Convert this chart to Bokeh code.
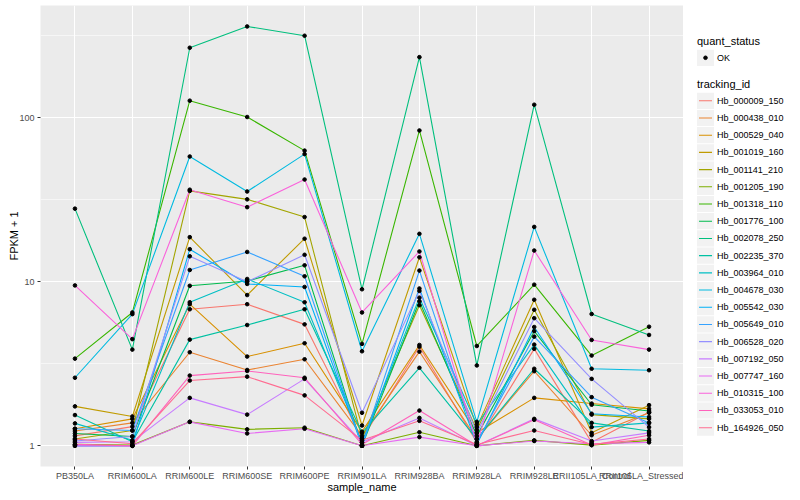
from bokeh.plotting import figure
from bokeh.layouts import row
from bokeh.models import Range1d, FixedTicker, PrintfTickFormatter
from bokeh.core.properties import value
from bokeh.embed import file_html
from bokeh.resources import INLINE

samples = ["PB350LA", "RRIM600LA", "RRIM600LE", "RRIM600SE", "RRIM600PE", "RRIM901LA",
           "RRIM928BA", "RRIM928LA", "RRIM928LE", "RRII105LA_Control", "RRII105LA_Stressed"]

tracking_ids = ["Hb_000009_150", "Hb_000438_010", "Hb_000529_040", "Hb_001019_160",
                "Hb_001141_210", "Hb_001205_190", "Hb_001318_110", "Hb_001776_100",
                "Hb_002078_250", "Hb_002235_370", "Hb_003964_010", "Hb_004678_030",
                "Hb_005542_030", "Hb_005649_010", "Hb_006528_020", "Hb_007192_050",
                "Hb_007747_160", "Hb_010315_100", "Hb_033053_010", "Hb_164926_050"]

hb_000009_150 = [1.15, 1.31, 6.8, 7.3, 5.5, 1.1, 4.02, 1.05, 3.9, 1.05, 1.6]
hb_000438_010 = [1.23, 1.38, 3.72, 2.9, 3.37, 1.15, 3.75, 1.1, 2.85, 1.16, 1.59]
hb_000529_040 = [1.27, 1.46, 7.3, 3.5, 4.22, 1.22, 4.12, 1.2, 1.96, 1.81, 1.68]
hb_001019_160 = [1.74, 1.51, 18.7, 8.3, 18.3, 1.33, 14.1, 1.3, 7.77, 1.2, 1.77]
hb_001141_210 = [1.1, 1.24, 35.8, 31.8, 24.8, 1.11, 7.2, 1.25, 6.75, 1.55, 1.46]
hb_001205_190 = [1.02, 1.01, 1.4, 1.26, 1.29, 1.0, 1.21, 1.0, 1.08, 1.01, 1.08]
hb_001318_110 = [3.4, 6.5, 127, 101, 63, 4.18, 83.6, 4.06, 9.6, 3.55, 5.32]
hb_001776_100 = [1.19, 1.14, 9.45, 10.1, 12.6, 1.0, 7.6, 1.15, 5.0, 1.78, 1.63]
hb_002078_250 = [27.9, 3.86, 267, 360, 316, 9.0, 234, 3.09, 120, 6.36, 4.74]
hb_002235_370 = [1.54, 1.06, 4.44, 5.45, 6.8, 1.2, 2.99, 1.1, 2.95, 1.38, 1.23]
hb_003964_010 = [1.37, 1.08, 7.5, 10.4, 7.5, 1.05, 8.0, 1.35, 4.14, 1.30, 1.38]
hb_004678_030 = [2.6, 6.35, 58, 35.5, 60, 3.77, 19.6, 1.4, 21.6, 2.95, 2.89]
hb_005542_030 = [1.0, 1.0, 15.8, 9.7, 9.3, 1.0, 9.1, 1.02, 5.3, 1.57, 1.5]
hb_005649_010 = [1.27, 1.24, 11.8, 15.2, 10.8, 1.0, 11.7, 1.05, 4.63, 1.98, 1.38]
hb_006528_020 = [1.07, 1.14, 14.3, 10.0, 14.6, 1.59, 8.8, 1.2, 6.0, 2.56, 1.3]
hb_007192_050 = [1.05, 1.06, 1.96, 1.55, 2.56, 1.05, 1.48, 1.0, 1.46, 1.07, 1.2]
hb_007747_160 = [1.0, 1.0, 1.4, 1.19, 1.27, 1.0, 1.13, 1.0, 1.07, 1.03, 1.05]
hb_010315_100 = [9.5, 4.47, 36.4, 28.5, 42, 6.5, 15.3, 1.02, 15.5, 4.42, 3.86]
hb_033053_010 = [1.02, 1.0, 2.68, 2.86, 2.6, 1.02, 1.64, 1.0, 1.44, 1.01, 1.16]
hb_164926_050 = [1.1, 1.03, 2.5, 2.64, 2.03, 1.08, 1.42, 1.02, 1.24, 1.02, 1.1]

series_values = [hb_000009_150, hb_000438_010, hb_000529_040, hb_001019_160, hb_001141_210,
                 hb_001205_190, hb_001318_110, hb_001776_100, hb_002078_250, hb_002235_370,
                 hb_003964_010, hb_004678_030, hb_005542_030, hb_005649_010, hb_006528_020,
                 hb_007192_050, hb_007747_160, hb_010315_100, hb_033053_010, hb_164926_050]

colors = ["#F8766D", "#EA8331", "#D89000", "#C09B00", "#A3A500", "#7CAE00", "#39B600",
          "#00BB4E", "#00BF7D", "#00C1A3", "#00BFC4", "#00BAE0", "#00B0F6", "#35A2FF",
          "#9590FF", "#C77CFF", "#E76BF3", "#FA62DB", "#FF62BC", "#FF6C91"]

status_levels = ["OK"]

FONT = "Liberation Sans"
W_MAIN = 683
W_LEG = 109
H = 495
FRAME_TOP = 5
FRAME_BOTTOM = 468

p = figure(width=W_MAIN, height=H, output_backend="svg", toolbar_location=None, tools="",
           y_axis_type="log",
           x_range=Range1d(-0.6, len(samples) - 1 + 0.6),
           y_range=Range1d(10 ** -0.126, 10 ** 2.684),
           min_border_left=40, min_border_right=0, min_border_top=FRAME_TOP,
           min_border_bottom=0)
p.background_fill_color = "#EBEBEB"
p.border_fill_color = "white"
p.outline_line_color = None

xs = list(range(len(samples)))
for vals, col in zip(series_values, colors):
    p.line(xs, vals, line_color=col, line_width=1.1)
for vals in series_values:
    p.scatter(xs, vals, size=3.6, color="black", marker="circle")

p.xaxis.ticker = FixedTicker(ticks=xs)
p.xaxis.major_label_overrides = {i: s for i, s in enumerate(samples)}
p.yaxis.ticker = FixedTicker(ticks=[1, 10, 100],
                             minor_ticks=[10 ** -0.5, 10 ** 0.5, 10 ** 1.5, 10 ** 2.5])
p.yaxis.formatter = PrintfTickFormatter(format="%d")

for ax in (p.xaxis, p.yaxis):
    ax.axis_line_color = None
    ax.major_tick_line_color = "#333333"
    ax.major_tick_out = 3
    ax.major_tick_in = 0
    ax.minor_tick_line_color = None
    ax.major_label_text_font = FONT
    ax.major_label_text_font_size = "9px"
    ax.major_label_text_color = "#4D4D4D"
    ax.axis_label_text_font = FONT
    ax.axis_label_text_font_size = "11px"
    ax.axis_label_text_font_style = "normal"
    ax.axis_label_text_color = "black"

p.xaxis.major_label_standoff = 1
p.xaxis.axis_label_standoff = -3
p.yaxis.major_label_standoff = 2
p.yaxis.axis_label_standoff = -4

p.xaxis.axis_label = "sample_name"
p.yaxis.axis_label = "FPKM + 1"

p.xgrid.grid_line_color = "white"
p.xgrid.grid_line_width = 1.1
p.ygrid.grid_line_color = "white"
p.ygrid.grid_line_width = 1.1
p.ygrid.minor_grid_line_color = "white"
p.ygrid.minor_grid_line_width = 0.55

# ---- legend panel (ggplot-style); its frame is aligned with the main frame ----
leg = figure(width=W_LEG, height=H, output_backend="svg", toolbar_location=None, tools="",
             x_range=Range1d(W_MAIN, W_MAIN + W_LEG),
             y_range=Range1d(FRAME_BOTTOM, FRAME_TOP),
             min_border_left=0, min_border_right=0, min_border_top=FRAME_TOP,
             min_border_bottom=0)
leg.axis.visible = False
leg.grid.visible = False
leg.outline_line_color = None
leg.background_fill_color = "white"
leg.border_fill_color = "white"

x0 = 696.5
key_w = 17
key_h = 17.28
leg.text([x0], [41], text=["quant_status"], text_font=value(FONT), text_font_size="11px",
         text_baseline="middle", text_align="left", text_color="black")
ok_y = [57.5 + i * key_h for i in range(len(status_levels))]
leg.rect([x0 + key_w / 2] * len(ok_y), ok_y, width=key_w, height=key_h - 1,
         fill_color="#F2F2F2", line_color=None)
leg.scatter([x0 + key_w / 2] * len(ok_y), ok_y, size=3.6, color="black")
leg.text([x0 + key_w + 3] * len(ok_y), ok_y, text=status_levels, text_font=value(FONT),
         text_font_size="9px", text_baseline="middle", text_align="left", text_color="black")
leg.text([x0], [84], text=["tracking_id"], text_font=value(FONT), text_font_size="11px",
         text_baseline="middle", text_align="left", text_color="black")
ky = [100.7 + i * key_h for i in range(len(tracking_ids))]
leg.rect([x0 + key_w / 2] * len(ky), ky, width=key_w, height=key_h - 1,
         fill_color="#F2F2F2", line_color=None)
leg.segment([x0 + 2] * len(ky), ky, [x0 + key_w - 2] * len(ky), ky, line_color=colors,
            line_width=1.1)
leg.text([x0 + key_w + 3] * len(ky), ky, text=tracking_ids, text_font=value(FONT),
         text_font_size="9px", text_baseline="middle", text_align="left", text_color="black")

layout = row(p, leg)
open("out.html", "w").write(file_html(layout, INLINE))
